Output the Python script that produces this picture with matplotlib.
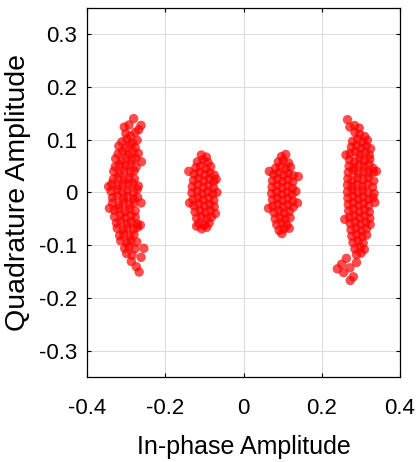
import matplotlib
matplotlib.use("Agg")
import matplotlib.pyplot as plt

# received symbols (in-phase, quadrature)
outer_left = [
    (-0.301, 0.112), (-0.289, 0.107), (-0.277, 0.114),
    (-0.311, 0.096), (-0.298, 0.101), (-0.284, 0.094), (-0.272, 0.099),
    (-0.319, 0.088), (-0.302, 0.084), (-0.291, 0.090), (-0.277, 0.085),
    (-0.321, 0.073), (-0.310, 0.078), (-0.294, 0.072), (-0.283, 0.077), (-0.269, 0.074),
    (-0.327, 0.064), (-0.312, 0.060), (-0.300, 0.066), (-0.285, 0.061), (-0.275, 0.065),
    (-0.328, 0.049), (-0.317, 0.053), (-0.301, 0.050), (-0.290, 0.054), (-0.275, 0.048),
    (-0.332, 0.040), (-0.317, 0.036), (-0.306, 0.042), (-0.290, 0.038), (-0.280, 0.041),
    (-0.333, 0.025), (-0.321, 0.029), (-0.305, 0.024), (-0.294, 0.028), (-0.279, 0.026),
    (-0.337, 0.016), (-0.321, 0.013), (-0.309, 0.017), (-0.294, 0.014), (-0.283, 0.018),
    (-0.269, 0.012),
    (-0.339, 0.002), (-0.323, 0.005), (-0.310, 0.001), (-0.297, 0.004), (-0.282, 0.000),
    (-0.272, 0.006),
    (-0.335, -0.010), (-0.323, -0.007), (-0.307, -0.011), (-0.296, -0.008), (-0.281, -0.012),
    (-0.271, -0.009),
    (-0.335, -0.020), (-0.319, -0.024), (-0.307, -0.019), (-0.292, -0.023), (-0.281, -0.020),
    (-0.330, -0.034), (-0.319, -0.031), (-0.303, -0.036), (-0.292, -0.032), (-0.277, -0.035),
    (-0.330, -0.046), (-0.314, -0.043), (-0.303, -0.048), (-0.288, -0.044), (-0.277, -0.047),
    (-0.325, -0.058), (-0.314, -0.055), (-0.298, -0.059), (-0.287, -0.056), (-0.272, -0.060),
    (-0.323, -0.068), (-0.308, -0.071), (-0.297, -0.067), (-0.282, -0.070), (-0.271, -0.066),
    (-0.317, -0.082), (-0.306, -0.079), (-0.291, -0.083), (-0.280, -0.080),
    (-0.314, -0.092), (-0.299, -0.095), (-0.288, -0.091), (-0.273, -0.094),
    (-0.304, -0.106), (-0.293, -0.103), (-0.278, -0.107),
    (-0.299, -0.116), (-0.285, -0.119),
    (-0.293, 0.128), (-0.281, 0.140), (-0.268, 0.119), (-0.262, 0.127), (-0.305, 0.124),
    (-0.287, -0.131), (-0.274, -0.141), (-0.262, -0.123), (-0.267, -0.151), (-0.255, -0.106),
    (-0.345, 0.011), (-0.343, -0.030), (-0.261, 0.058), (-0.264, -0.062), (-0.262, -0.020),
]

inner_left = [
    (-0.108, 0.071), (-0.095, 0.067),
    (-0.118, 0.058), (-0.104, 0.062), (-0.091, 0.057),
    (-0.122, 0.047), (-0.110, 0.050), (-0.096, 0.045), (-0.084, 0.049),
    (-0.126, 0.035), (-0.113, 0.038), (-0.099, 0.034), (-0.086, 0.037), (-0.075, 0.033),
    (-0.128, 0.023), (-0.115, 0.026), (-0.102, 0.022), (-0.088, 0.025), (-0.076, 0.021),
    (-0.131, 0.011), (-0.117, 0.014), (-0.103, 0.010), (-0.090, 0.013), (-0.077, 0.009),
    (-0.132, -0.001), (-0.118, 0.002), (-0.105, -0.002), (-0.092, 0.001), (-0.079, -0.003),
    (-0.068, 0.000),
    (-0.129, -0.013), (-0.116, -0.010), (-0.103, -0.014), (-0.089, -0.011), (-0.076, -0.015),
    (-0.127, -0.025), (-0.114, -0.022), (-0.100, -0.026), (-0.087, -0.023), (-0.075, -0.027),
    (-0.124, -0.037), (-0.111, -0.034), (-0.098, -0.038), (-0.085, -0.035),
    (-0.120, -0.049), (-0.107, -0.046), (-0.094, -0.050), (-0.082, -0.047),
    (-0.114, -0.059), (-0.101, -0.062), (-0.088, -0.058),
    (-0.107, -0.069), (-0.094, -0.066),
    (-0.140, 0.040), (-0.138, -0.020), (-0.070, 0.025), (-0.072, -0.040), (-0.120, -0.064),
]

inner_right = [
    (0.097, 0.068), (0.108, 0.072),
    (0.089, 0.058), (0.102, 0.061), (0.115, 0.056),
    (0.082, 0.046), (0.095, 0.049), (0.108, 0.045), (0.120, 0.048),
    (0.077, 0.034), (0.089, 0.037), (0.102, 0.033), (0.115, 0.036), (0.127, 0.032),
    (0.074, 0.022), (0.087, 0.025), (0.100, 0.021), (0.113, 0.024), (0.126, 0.020),
    (0.073, 0.010), (0.086, 0.013), (0.099, 0.009), (0.112, 0.012), (0.125, 0.008),
    (0.072, -0.002), (0.085, 0.001), (0.098, -0.003), (0.111, 0.000), (0.124, -0.004),
    (0.134, 0.002),
    (0.074, -0.014), (0.087, -0.011), (0.100, -0.015), (0.113, -0.012), (0.126, -0.016),
    (0.075, -0.026), (0.088, -0.023), (0.101, -0.027), (0.114, -0.024), (0.127, -0.028),
    (0.078, -0.038), (0.091, -0.035), (0.104, -0.039), (0.117, -0.036),
    (0.081, -0.050), (0.094, -0.047), (0.107, -0.051), (0.119, -0.048),
    (0.085, -0.061), (0.098, -0.058), (0.111, -0.062),
    (0.091, -0.072), (0.104, -0.069),
    (0.098, -0.078), (0.140, 0.030), (0.138, -0.020), (0.066, 0.040), (0.064, -0.030),
    (0.117, -0.068),
]

outer_right = [
    (0.297, 0.110), (0.285, 0.114), (0.310, 0.106),
    (0.279, 0.097), (0.292, 0.101), (0.305, 0.095), (0.317, 0.099),
    (0.276, 0.086), (0.289, 0.089), (0.301, 0.084), (0.314, 0.088), (0.325, 0.083),
    (0.273, 0.074), (0.286, 0.077), (0.298, 0.072), (0.311, 0.076), (0.322, 0.071),
    (0.271, 0.062), (0.284, 0.058), (0.297, 0.064), (0.309, 0.060), (0.323, 0.063),
    (0.270, 0.050), (0.282, 0.047), (0.295, 0.052), (0.308, 0.049), (0.321, 0.053),
    (0.331, 0.046),
    (0.268, 0.038), (0.281, 0.041), (0.294, 0.036), (0.307, 0.040), (0.320, 0.037),
    (0.332, 0.039),
    (0.267, 0.026), (0.279, 0.023), (0.292, 0.027), (0.306, 0.024), (0.319, 0.028),
    (0.333, 0.022),
    (0.266, 0.014), (0.278, 0.011), (0.291, 0.015), (0.304, 0.012), (0.317, 0.016),
    (0.330, 0.010),
    (0.266, 0.001), (0.279, 0.004), (0.292, -0.001), (0.305, 0.003), (0.318, 0.000),
    (0.334, -0.002),
    (0.267, -0.011), (0.280, -0.008), (0.293, -0.012), (0.306, -0.009), (0.319, -0.013),
    (0.331, -0.010),
    (0.268, -0.023), (0.281, -0.020), (0.294, -0.024), (0.307, -0.021), (0.320, -0.025),
    (0.336, -0.019),
    (0.269, -0.035), (0.282, -0.032), (0.296, -0.036), (0.309, -0.033), (0.322, -0.037),
    (0.271, -0.047), (0.284, -0.044), (0.297, -0.048), (0.310, -0.045), (0.323, -0.049),
    (0.273, -0.059), (0.286, -0.056), (0.299, -0.060), (0.312, -0.057), (0.324, -0.061),
    (0.275, -0.071), (0.288, -0.068), (0.301, -0.072), (0.314, -0.069),
    (0.277, -0.083), (0.290, -0.080), (0.303, -0.084), (0.315, -0.081),
    (0.280, -0.095), (0.293, -0.092), (0.306, -0.096),
    (0.285, -0.107), (0.298, -0.104), (0.309, -0.108),
    (0.289, -0.118), (0.301, -0.115),
    (0.266, 0.138), (0.272, 0.124), (0.284, 0.127), (0.296, 0.122), (0.262, 0.071),
    (0.340, 0.040), (0.259, -0.051), (0.263, -0.125), (0.251, -0.136), (0.240, -0.145),
    (0.256, -0.152), (0.272, -0.143), (0.281, -0.160), (0.273, -0.167), (0.289, -0.133),
]

x_ticks = [-0.4, -0.2, 0, 0.2, 0.4]
x_tick_labels = ["-0.4", "-0.2", "0", "0.2", "0.4"]
y_ticks = [-0.3, -0.2, -0.1, 0, 0.1, 0.2, 0.3]
y_tick_labels = ["-0.3", "-0.2", "-0.1", "0", "0.1", "0.2", "0.3"]

plt.rcParams["font.family"] = ["Liberation Sans", "DejaVu Sans"]

fig = plt.figure(figsize=(4.17, 4.62), dpi=100)
ax = fig.add_axes([0.209, 0.184, 0.750, 0.799])

for cluster in (outer_left, inner_left, inner_right, outer_right):
    ii = [p[0] for p in cluster]
    qq = [p[1] for p in cluster]
    ax.scatter(ii, qq, s=46, color="#ff0000", alpha=0.7,
               edgecolors="none", zorder=3)

ax.set_xlim(-0.4, 0.4)
ax.set_ylim(-0.35, 0.35)
ax.set_xticks(x_ticks)
ax.set_xticklabels(x_tick_labels)
ax.set_yticks(y_ticks)
ax.set_yticklabels(y_tick_labels)
ax.grid(True, color="#dcdcdc", linewidth=0.8, zorder=0)
ax.set_axisbelow(True)
ax.tick_params(direction="in", length=3, width=0.8, labelsize=16,
               top=True, right=True)
ax.tick_params(axis="x", pad=15)
ax.tick_params(axis="y", pad=7)
for sp in ax.spines.values():
    sp.set_linewidth(0.9)

ax.set_xlabel("In-phase Amplitude", fontsize=18, labelpad=12)
ax.set_ylabel("Quadrature Amplitude", fontsize=20.5, labelpad=6)

fig.savefig("out.png", dpi=100)
